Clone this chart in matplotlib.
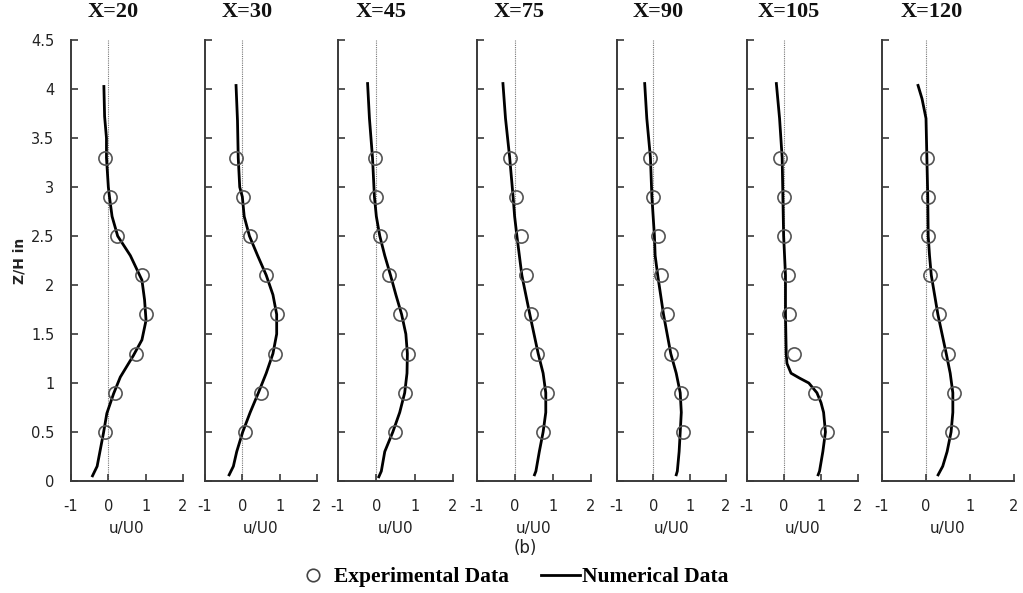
import matplotlib
matplotlib.use("Agg")
import matplotlib.pyplot as plt
from matplotlib.lines import Line2D
from matplotlib.ticker import FuncFormatter
from matplotlib.transforms import blended_transform_factory

# ---------------- data ----------------
stations = ["X=20", "X=30", "X=45", "X=75", "X=90", "X=105", "X=120"]

z_exp = [0.5, 0.9, 1.3, 1.7, 2.1, 2.5, 2.9, 3.3]
u_exp_20 = [-0.10, 0.18, 0.75, 1.01, 0.89, 0.23, 0.05, -0.10]
u_exp_30 = [0.06, 0.51, 0.88, 0.94, 0.64, 0.21, 0.01, -0.17]
u_exp_45 = [0.49, 0.76, 0.83, 0.63, 0.32, 0.10, 0.00, -0.04]
u_exp_75 = [0.74, 0.85, 0.58, 0.43, 0.28, 0.17, 0.02, -0.12]
u_exp_90 = [0.81, 0.77, 0.48, 0.37, 0.21, 0.12, 0.00, -0.08]
u_exp_105 = [1.16, 0.85, 0.26, 0.14, 0.11, -0.01, -0.01, -0.12]
u_exp_120 = [0.59, 0.64, 0.49, 0.30, 0.10, 0.04, 0.04, 0.02]

z_num_20 = [0.04, 0.15, 0.49, 0.69, 0.89, 1.06, 1.28, 1.44, 1.64, 1.85, 2.05, 2.3, 2.5, 2.7, 2.9, 3.0, 3.3, 3.5, 3.72, 4.04]
u_num_20 = [-0.44, -0.30, -0.13, -0.04, 0.14, 0.32, 0.67, 0.90, 1.01, 0.97, 0.90, 0.59, 0.25, 0.10, 0.03, 0.0, -0.05, -0.05, -0.10, -0.12]

z_num_30 = [0.05, 0.15, 0.3, 0.5, 0.7, 0.9, 1.1, 1.3, 1.5, 1.7, 1.9, 2.1, 2.3, 2.5, 2.7, 2.9, 3.0, 3.3, 3.68, 4.05]
u_num_30 = [-0.37, -0.24, -0.15, 0.01, 0.21, 0.43, 0.64, 0.82, 0.92, 0.92, 0.82, 0.64, 0.41, 0.19, 0.05, 0.0, -0.07, -0.11, -0.13, -0.17]

z_num_45 = [0.03, 0.1, 0.3, 0.5, 0.7, 0.9, 1.1, 1.3, 1.5, 1.7, 1.9, 2.1, 2.3, 2.5, 2.7, 2.9, 3.3, 3.7, 4.07]
u_num_45 = [0.05, 0.13, 0.22, 0.43, 0.61, 0.74, 0.80, 0.81, 0.77, 0.66, 0.51, 0.37, 0.22, 0.09, 0.0, -0.05, -0.10, -0.18, -0.23]

z_num_75 = [0.05, 0.1, 0.3, 0.5, 0.7, 0.9, 1.1, 1.3, 1.7, 2.1, 2.5, 2.7, 2.9, 3.3, 3.7, 4.07]
u_num_75 = [0.50, 0.55, 0.64, 0.74, 0.81, 0.81, 0.74, 0.61, 0.39, 0.18, 0.05, -0.01, -0.05, -0.14, -0.25, -0.32]

z_num_90 = [0.05, 0.1, 0.3, 0.5, 0.7, 0.9, 1.1, 1.3, 1.7, 2.1, 2.3, 2.5, 2.9, 3.3, 3.7, 4.07]
u_num_90 = [0.62, 0.66, 0.71, 0.74, 0.77, 0.74, 0.63, 0.48, 0.28, 0.12, 0.05, 0.03, -0.04, -0.08, -0.18, -0.24]

z_num_105 = [0.05, 0.1, 0.3, 0.5, 0.7, 0.8, 0.9, 1.0, 1.05, 1.1, 1.2, 1.3, 1.7, 2.1, 2.5, 2.9, 3.3, 3.7, 4.07]
u_num_105 = [0.91, 0.96, 1.05, 1.12, 1.07, 1.0, 0.89, 0.67, 0.42, 0.19, 0.08, 0.06, 0.04, 0.04, -0.01, -0.03, -0.05, -0.12, -0.21]

z_num_120 = [0.05, 0.15, 0.3, 0.5, 0.7, 0.9, 1.1, 1.3, 1.7, 2.1, 2.3, 2.5, 2.9, 3.3, 3.7, 3.9, 4.05]
u_num_120 = [0.26, 0.38, 0.48, 0.57, 0.61, 0.61, 0.55, 0.46, 0.27, 0.12, 0.08, 0.05, 0.04, 0.02, 0.0, -0.09, -0.19]

u_exp_all = [u_exp_20, u_exp_30, u_exp_45, u_exp_75, u_exp_90, u_exp_105, u_exp_120]
num_all = [(z_num_20, u_num_20), (z_num_30, u_num_30), (z_num_45, u_num_45),
           (z_num_75, u_num_75), (z_num_90, u_num_90), (z_num_105, u_num_105),
           (z_num_120, u_num_120)]

x_ticks = [-1, 0, 1, 2]
y_ticks = [0, 0.5, 1, 1.5, 2, 2.5, 3, 3.5, 4, 4.5]

# ---------------- layout ----------------
W, H = 1023, 593
fig = plt.figure(figsize=(W / 100, H / 100), dpi=100)
fig.patch.set_facecolor("white")

lefts = [71, 205, 338, 477, 617, 747, 882]
widths = [112, 112, 115, 114, 109, 111, 132]
top_px, bot_px = 40, 481

spine_col = "#3a3a3a"

for i, (name, ue, (zn, un)) in enumerate(zip(stations, u_exp_all, num_all)):
    ax = fig.add_axes([lefts[i] / W, (H - bot_px) / H, widths[i] / W, (bot_px - top_px) / H])
    ax.set_xlim(-1, 2)
    ax.set_ylim(0, 4.5)
    for s in ["top", "right"]:
        ax.spines[s].set_visible(False)
    for s in ["left", "bottom"]:
        ax.spines[s].set_color(spine_col)
        ax.spines[s].set_linewidth(1.4)
    ax.set_xticks(x_ticks)
    ax.set_yticks(y_ticks)
    ax.tick_params(direction="in", length=5, width=1.2, color=spine_col,
                   labelsize=10.5, labelcolor="#222222", pad=12)
    ax.tick_params(axis="x", pad=13)
    ax.xaxis.set_major_formatter(FuncFormatter(lambda v, p: "%g" % v))
    ax.yaxis.set_major_formatter(FuncFormatter(lambda v, p: "%g" % v))
    if i > 0:
        ax.tick_params(axis="y", labelleft=False)
    for lab in ax.get_xticklabels() + ax.get_yticklabels():
        lab.set_family("DejaVu Sans")

    ax.axvline(0, color="#777777", lw=0.8, ls=(0, (1, 1)), zorder=1)
    ax.plot(un, zn, color="black", lw=2.0, solid_capstyle="butt", zorder=2)
    ax.plot(ue, z_exp, ls="none", marker="o", ms=9.5, mfc="none",
            mec="#555555", mew=1.2, zorder=3)

    tr = blended_transform_factory(ax.transData, ax.transAxes)
    ax.text(0.12, 1.063, name, transform=tr, ha="center", va="center",
            family="Liberation Serif", weight="bold", fontsize=16, color="#111111")
    ax.set_xlabel("u/U0", family="DejaVu Sans", fontsize=11, color="#222222", labelpad=5)
    if i == 0:
        ax.set_ylabel("Z/H in", family="DejaVu Sans", weight="bold", fontsize=10,
                      color="#222222", labelpad=3)

fig.text(525 / W, 1 - 548 / H, "(b)", ha="center", va="center",
         family="DejaVu Sans", fontsize=12, color="#222222")

exp_leg = Line2D([], [], ls="none", marker="o", ms=9, mfc="none", mec="#444444", mew=1.2)
num_leg = Line2D([], [], color="black", lw=2.0)
fig.legend([exp_leg, num_leg], ["Experimental Data", "Numerical Data"],
           loc="center", bbox_to_anchor=(511 / W, 1 - 577 / H), ncol=2, frameon=False,
           prop={"family": "Liberation Serif", "weight": "bold", "size": 15.5},
           handlelength=1.8, handletextpad=0.1, columnspacing=1.5, borderpad=0,
           borderaxespad=0)

fig.savefig("out.png", dpi=100, facecolor="white")
